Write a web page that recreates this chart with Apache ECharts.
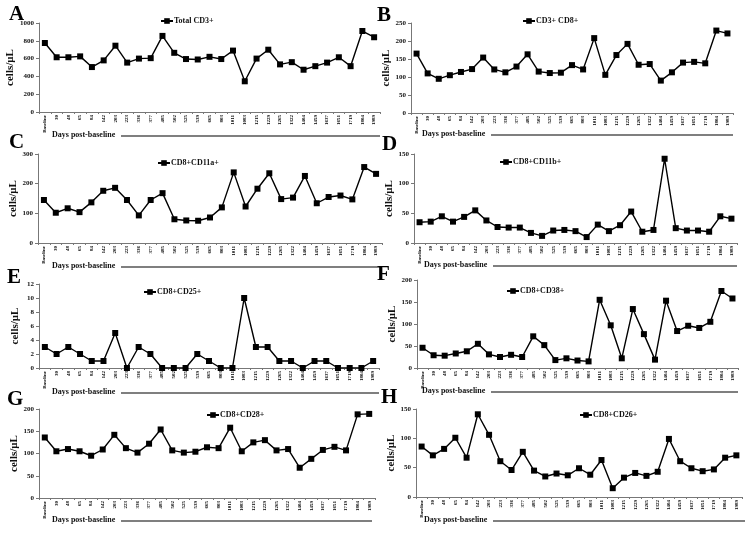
<!DOCTYPE html>
<html lang="en">
<head>
  <meta charset="UTF-8">
  <title>CD8+ T cell subsets post-baseline</title>
  <script src="https://cdn.jsdelivr.net/npm/echarts@6/dist/echarts.min.js"></script>
</head>
<body style="margin:0;background:#fff">
  <div id="container" style="width:751px;height:533px;"></div>
  <script>
    // x categories (days post-baseline)
    var days = ['Baseline','30','48','65','84','142','203','223','336','377','485','502','525','539','665','803',
                '1011','1083','1215','1229','1265','1322','1404','1459','1637','1651','1719','1804','1989'];

    // series values, cells/uL
    var totalCD3  = [775,615,615,625,505,580,745,555,600,605,855,665,595,590,620,595,690,345,600,700,535,560,475,515,555,615,515,910,840];
    var cd3cd8    = [165,110,95,105,114,122,154,121,113,129,163,115,111,112,133,121,208,106,161,192,134,136,90,113,140,142,138,229,221];
    var cd11a     = [145,102,117,104,137,176,186,145,93,145,168,80,76,75,86,120,238,123,183,235,148,153,226,134,155,160,147,256,233];
    var cd11b     = [35,36,45,36,44,55,38,27,26,26,17,12,21,22,20,10,31,20,30,53,19,22,142,25,21,21,19,45,41];
    var cd25      = [3,2,3,2,1,1,5,0,3,2,0,0,0,2,1,0,0,10,3,3,1,1,0,1,1,0,0,0,1];
    var cd38      = [46,29,28,33,38,55,31,25,30,25,72,52,18,22,17,15,155,97,22,134,77,19,153,84,96,91,105,175,158];
    var cd28      = [136,105,110,105,95,109,142,112,102,122,154,107,102,104,114,112,158,105,125,130,107,110,68,88,108,115,107,188,189];
    var cd26      = [86,71,82,101,67,141,106,61,46,77,45,35,40,37,49,38,63,15,33,41,36,43,99,61,49,44,47,67,71];

    var seriesNames = ['Total CD3+','CD3+ CD8+','CD8+CD11a+','CD8+CD11b+','CD8+CD25+','CD8+CD38+','CD8+CD28+','CD8+CD26+'];
    var seriesData  = [totalCD3, cd3cd8, cd11a, cd11b, cd25, cd38, cd28, cd26];
    var letters     = ['A','B','C','D','E','F','G','H'];
    var yMax        = [1000, 250, 300, 150, 12, 200, 200, 150];
    var yStep       = [200, 50, 100, 50, 2, 50, 50, 50];

    // layout of each panel
    var layout = [
      {left: 39,  width: 341, top: 23,  height: 89, lx: 160, ly: 21,  cx: 9,   cy: 4,   dx: 52,  dy: 136, dEnd: 380},
      {left: 411, width: 322, top: 23,  height: 90, lx: 522, ly: 21,  cx: 377, cy: 5,   dx: 422, dy: 135, dEnd: 733},
      {left: 38,  width: 344, top: 154, height: 89, lx: 157, ly: 163, cx: 9,   cy: 132, dx: 52,  dy: 267, dEnd: 382},
      {left: 414, width: 323, top: 154, height: 89, lx: 499, ly: 162, cx: 382, cy: 134, dx: 424, dy: 266, dEnd: 737},
      {left: 39,  width: 340, top: 284, height: 84, lx: 143, ly: 292, cx: 7,   cy: 267, dx: 52,  dy: 393, dEnd: 379},
      {left: 417, width: 321, top: 280, height: 88, lx: 506, ly: 291, cx: 377, cy: 264, dx: 422, dy: 392, dEnd: 738},
      {left: 39,  width: 336, top: 409, height: 89, lx: 206, ly: 415, cx: 7,   cy: 389, dx: 52,  dy: 521, dEnd: 372},
      {left: 416, width: 326, top: 409, height: 88, lx: 579, ly: 415, cx: 381, cy: 387, dx: 424, dy: 521, dEnd: 745}
    ];

    var serif = '"Liberation Serif", "Times New Roman", serif';
    var grids = [], xAxes = [], yAxes = [], series = [], legends = [], titles = [], graphics = [];

    layout.forEach(function (p, i) {
      grids.push({left: p.left, top: p.top, width: p.width, height: p.height, containLabel: false});
      xAxes.push({
        type: 'category', gridIndex: i, data: days, boundaryGap: true,
        axisLine: {lineStyle: {color: '#777', width: 1}},
        axisTick: {show: true, length: 2, lineStyle: {color: '#777'}},
        axisLabel: {interval: 0, rotate: 90, fontSize: 5, fontWeight: 'bold', fontFamily: serif, color: '#000', margin: 3}
      });
      yAxes.push({
        type: 'value', gridIndex: i, min: 0, max: yMax[i], interval: yStep[i],
        name: 'cells/μL', nameLocation: 'middle', nameRotate: 90, nameGap: 18,
        nameTextStyle: {fontFamily: serif, fontWeight: 'bold', fontSize: 11, color: '#111'},
        axisLine: {show: true, lineStyle: {color: '#777', width: 1}},
        axisTick: {show: true, length: 3, lineStyle: {color: '#777'}},
        splitLine: {show: false},
        axisLabel: {
          fontFamily: serif, fontWeight: 'bold', fontSize: 7, color: '#111', margin: 5,
          formatter: function (v) { return String(v); }
        }
      });
      series.push({
        name: seriesNames[i], type: 'line', xAxisIndex: i, yAxisIndex: i,
        data: seriesData[i], symbol: 'rect', symbolSize: 6, showSymbol: true,
        lineStyle: {color: '#000', width: 1.4},
        itemStyle: {color: '#000'}
      });
      legends.push({
        data: [seriesNames[i]], left: p.lx, top: p.ly - 4,
        itemWidth: 12, itemHeight: 7, itemGap: 0, padding: 0,
        textStyle: {fontFamily: serif, fontWeight: 'bold', fontSize: 8, color: '#111', padding: [0, 0, 0, -4]}
      });
      titles.push({
        text: letters[i], left: p.cx, top: p.cy, padding: 0,
        textStyle: {fontFamily: serif, fontWeight: 'bold', fontSize: 21, color: '#000'}
      });
      graphics.push({
        type: 'text', left: p.dx, top: p.dy - 5,
        style: {text: 'Days post-baseline', font: 'bold 8px ' + serif, fill: '#111'}
      });
      graphics.push({
        type: 'line', shape: {x1: p.dx + 69, y1: p.dy, x2: p.dEnd, y2: p.dy},
        style: {stroke: '#000', lineWidth: 1.2}
      });
    });

    var myChart = echarts.init(document.getElementById('container'), null, {renderer: 'canvas'});
    myChart.setOption({
      backgroundColor: '#fff',
      animation: false,
      title: titles,
      legend: legends,
      grid: grids,
      xAxis: xAxes,
      yAxis: yAxes,
      series: series,
      graphic: graphics
    });
  </script>
</body>
</html>
